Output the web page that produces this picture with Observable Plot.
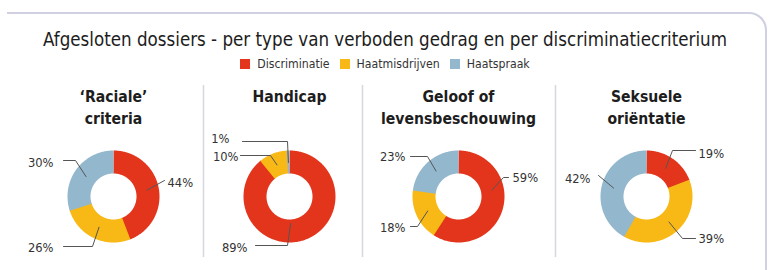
<!DOCTYPE html>
<html><head><meta charset="utf-8">
<script src="https://cdn.jsdelivr.net/npm/d3@7"></script>
<script src="https://cdn.jsdelivr.net/npm/@observablehq/plot@0.6"></script>
<style>
body{margin:0;background:#fff;font-family:"Liberation Sans Narrow","DejaVu Sans Condensed","DejaVu Sans",sans-serif;color:#1d1d1d;}
#wrap{position:relative;width:770px;height:270px;overflow:hidden;}
#frame{position:absolute;left:7px;top:12px;width:760px;height:320px;border-top:2px solid #cfd0e2;border-right:2px solid #cfd0e2;border-top-right-radius:18px;box-sizing:border-box;}
#title{position:absolute;top:28px;left:0;width:770px;text-align:center;font-size:18.6px;line-height:24px;}
#legend{position:absolute;top:56px;left:0;width:770px;display:flex;justify-content:center;align-items:center;font-size:12.2px;line-height:16px;color:#333;}
#legend span.item{display:flex;align-items:center;margin:0 5px;}
#legend span.sw{display:inline-block;width:10px;height:10px;margin-right:7px;}
#chart{position:absolute;top:78px;left:0;}
#chart svg{font-family:"Liberation Sans Narrow","DejaVu Sans Condensed","DejaVu Sans",sans-serif;}
</style></head>
<body><div id="wrap"><div id="frame"></div>
<div id="title">Afgesloten dossiers - per type van verboden gedrag en per discriminatiecriterium</div>
<div id="legend"></div>
<div id="chart"></div></div>
<script>
// ---- data ----
const criteria = ["‘Raciale’\ncriteria", "Handicap", "Geloof of\nlevensbeschouwing", "Seksuele\noriëntatie"];
const types = ["Discriminatie", "Haatmisdrijven", "Haatspraak"];
const discriminatie = [44, 89, 59, 19];
const haatmisdrijven = [26, 10, 18, 39];
const haatspraak = [30, 1, 23, 42];

// ---- styles / layout ----
const colors = ["#e3351c", "#f8b815", "#93b7cd"];
const top0 = 78;                       // page y of the svg top
const centersX = [113, 289, 458, 646]; // donut centres (page px)
const centerY = 196;
const rOuter = 46, rInner = 23;
const dividersX = [203, 362, 555];
// label layout per panel & type: text offset (tx,ty), anchor, leader start (sx,sy), elbow x (ex), optional angle fraction / radius
const labelLayout = [
  [ {tx:54, ty:-14, a:"start", sx:51, sy:-16},
    {tx:-60, ty:51, a:"end", sx:-50, sy:50, ex:-21},
    {tx:-60, ty:-34, a:"end", sx:-50, sy:-36, ex:-38} ],
  [ {tx:-42, ty:51, a:"end", sx:-34, sy:49, ex:-2, f:0.493, r:27},
    {tx:-51, ty:-40, a:"end", sx:-49, sy:-41, ex:-19},
    {tx:-60, ty:-58, a:"end", sx:-47, sy:-55, ex:-2} ],
  [ {tx:54, ty:-19, a:"start", sx:50, sy:-19, ex:45, f:0.22},
    {tx:-53, ty:31, a:"end", sx:-48, sy:30, ex:-41},
    {tx:-53, ty:-40, a:"end", sx:-48, sy:-40, ex:-31} ],
  [ {tx:52, ty:-43, a:"start", sx:49, sy:-46, ex:26},
    {tx:52, ty:42, a:"start", sx:49, sy:42, ex:36},
    {tx:-56, ty:-18, a:"end", sx:-48, sy:-21} ]
];

// legend
const legend = document.getElementById("legend");
types.forEach((t, j) => {
  const it = document.createElement("span"); it.className = "item";
  const sw = document.createElement("span"); sw.className = "sw"; sw.style.background = colors[j];
  it.appendChild(sw); it.appendChild(document.createTextNode(t));
  legend.appendChild(it);
});

// build tables from data
const series = [discriminatie, haatmisdrijven, haatspraak];
const slices = [];
criteria.forEach((c, i) => {
  let cum = 0;
  types.forEach((t, j) => {
    const v = series[j][i];
    slices.push({panel: i, type: t, j, value: v, f0: cum / 100, f1: (cum + v) / 100});
    cum += v;
  });
});
const polar = (i, frac, r) => {
  const a = frac * 2 * Math.PI;
  return {x: centersX[i] + r * Math.sin(a), y: centerY - top0 - r * Math.cos(a)};
};
const rMid = (rOuter + rInner) / 2;
const arcPts = [];
slices.forEach((s, k) => {
  const f0 = s.f0, f1 = Math.min(1, s.f1 + 0.003);
  const n = Math.max(2, Math.ceil((f1 - f0) * 360));
  for (let q = 0; q <= n; q++) {
    const p = polar(s.panel, f0 + (f1 - f0) * q / n, rMid);
    arcPts.push({...p, key: k, type: s.type});
  }
});
const labels = [], leaders = [];
slices.forEach((s, k) => {
  const L = labelLayout[s.panel][s.j];
  const cx = centersX[s.panel], cy = centerY - top0;
  labels.push({x: cx + L.tx, y: cy + L.ty, text: s.value + "%", anchor: L.a});
  const end = polar(s.panel, L.f ?? (s.f0 + s.f1) / 2, L.r ?? 34);
  leaders.push({key: k, x: cx + L.sx, y: cy + L.sy});
  if (L.ex !== undefined) leaders.push({key: k, x: cx + L.ex, y: cy + L.sy});
  leaders.push({key: k, ...end});
});
const titles = criteria.map((c, i) => ({x: centersX[i], y: 85 - top0, text: c}));

const chart = Plot.plot({
  width: 770, height: 192, margin: 0,
  x: {domain: [0, 770], range: [0, 770], axis: null},
  y: {domain: [0, 192], range: [0, 192], axis: null},
  color: {domain: types, range: colors},
  marks: [
    Plot.ruleX(dividersX, {x: d => d, y1: 85 - top0, y2: 257 - top0, stroke: "#d6d7e0", strokeWidth: 1.5}),
    Plot.line(arcPts, {x: "x", y: "y", z: "key", stroke: "type", strokeWidth: rOuter - rInner, strokeLinecap: "butt", strokeLinejoin: "round"}),
    Plot.line(leaders, {x: "x", y: "y", z: "key", stroke: "#555", strokeWidth: 1}),
    Plot.text(titles, {x: "x", y: "y", text: "text", lineAnchor: "top", lineHeight: 1.45, fontSize: 15.6, fontWeight: "bold", fill: "#1d1d1d"}),
    Plot.text(labels.filter(d => d.anchor === "start"), {x: "x", y: "y", text: "text", textAnchor: "start", fontSize: 12.8, fill: "#333"}),
    Plot.text(labels.filter(d => d.anchor === "end"), {x: "x", y: "y", text: "text", textAnchor: "end", fontSize: 12.8, fill: "#333"})
  ]
});
document.getElementById("chart").appendChild(chart);
</script>
</body></html>
